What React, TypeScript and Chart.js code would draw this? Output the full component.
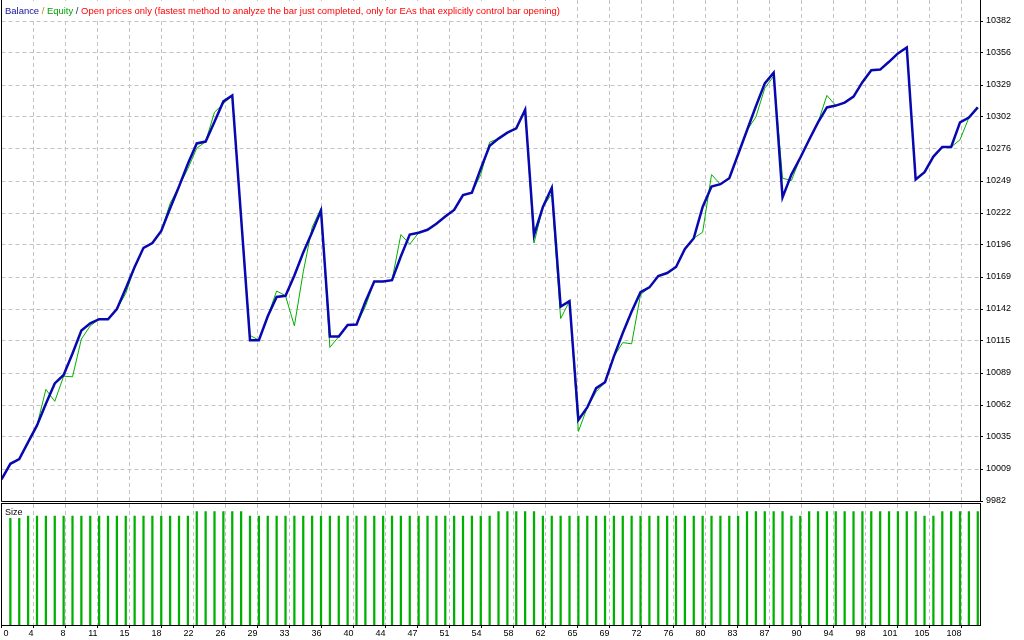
import React, { useEffect, useRef } from 'react';
import { Chart, registerables } from 'chart.js';
Chart.register(...registerables);

// ---- data ----
const balance = [
  10000, 10013, 10017, 10031, 10045, 10063, 10080, 10087, 10105, 10124,
  10130, 10133.5, 10133.5, 10142, 10159, 10177, 10193, 10197, 10207, 10226,
  10244, 10263, 10280, 10281.5, 10298, 10315, 10320, 10218, 10116, 10116,
  10136, 10152, 10153, 10170, 10189, 10206, 10224, 10119, 10119, 10128.7,
  10129, 10148, 10165, 10165, 10166, 10186, 10204, 10205.5, 10208, 10213,
  10219, 10224.5, 10237, 10239, 10259, 10278, 10284, 10289, 10292.5, 10308,
  10203.5, 10227, 10243, 10144, 10148.5, 10049.5, 10060, 10076, 10081, 10102.5,
  10122, 10140, 10156, 10160, 10169.5, 10172, 10177, 10192, 10201, 10227,
  10244, 10246, 10251, 10271, 10291, 10311, 10330, 10339, 10235, 10254,
  10268, 10283, 10297.5, 10310, 10311.5, 10314, 10319, 10331, 10341, 10341.5,
  10348, 10355, 10360, 10250, 10256, 10269, 10277, 10277, 10297.5, 10301.5,
  10310,
];

const equity = [
  10000, 10013, 10017, 10031, 10045, 10075, 10065, 10086, 10085.5, 10117,
  10128, 10133.5, 10133.5, 10142, 10155, 10177, 10193, 10197, 10207, 10230,
  10244, 10259, 10276, 10281.5, 10306, 10313, 10320, 10218, 10120, 10116,
  10136, 10157, 10153, 10128, 10173, 10210, 10226, 10110, 10119, 10128.7,
  10129, 10144, 10165, 10165, 10166, 10204, 10196, 10205.5, 10208, 10213,
  10219, 10224.5, 10237, 10239, 10254, 10281, 10284, 10289, 10292.5, 10308,
  10197, 10227, 10238, 10134, 10148.5, 10040, 10060, 10073, 10081, 10102.5,
  10114, 10113, 10154, 10160, 10169.5, 10172, 10177, 10192, 10201, 10206,
  10254, 10246, 10251, 10271, 10291, 10302, 10326, 10336, 10251, 10249,
  10268, 10283, 10297.5, 10320, 10311.5, 10314, 10319, 10331, 10341, 10341.5,
  10348, 10355, 10360, 10250, 10256, 10269, 10277, 10277, 10283, 10301.5,
  10310,
];

// lot size of trades 1..110
const sizes = [
  0.47, 0.47, 0.48, 0.48, 0.48, 0.48, 0.48, 0.48, 0.48, 0.48,
  0.48, 0.48, 0.48, 0.48, 0.48, 0.48, 0.48, 0.48, 0.48, 0.48,
  0.48, 0.5, 0.5, 0.5, 0.5, 0.5, 0.5, 0.48, 0.48, 0.48,
  0.48, 0.48, 0.48, 0.48, 0.48, 0.48, 0.48, 0.48, 0.48, 0.48,
  0.48, 0.48, 0.48, 0.48, 0.48, 0.48, 0.48, 0.48, 0.48, 0.48,
  0.48, 0.48, 0.48, 0.48, 0.48, 0.5, 0.5, 0.5, 0.5, 0.5,
  0.48, 0.48, 0.48, 0.48, 0.48, 0.48, 0.48, 0.48, 0.48, 0.48,
  0.48, 0.48, 0.48, 0.48, 0.48, 0.48, 0.48, 0.48, 0.48, 0.48,
  0.48, 0.48, 0.48, 0.5, 0.5, 0.5, 0.5, 0.5, 0.48, 0.48,
  0.5, 0.5, 0.5, 0.5, 0.5, 0.5, 0.5, 0.5, 0.5, 0.5,
  0.5, 0.5, 0.5, 0.48, 0.48, 0.5, 0.5, 0.5, 0.5, 0.5,
];

const xTickLabels = [
  '0', '4', '8', '11', '15', '18', '22', '26', '29', '33', '36', '40', '44', '47', '51', '54',
  '58', '62', '65', '69', '72', '76', '80', '83', '87', '90', '94', '98', '101', '105', '108',
];

const yTickLabels = [
  '9982', '10009', '10035', '10062', '10089', '10115', '10142', '10169',
  '10196', '10222', '10249', '10276', '10302', '10329', '10356', '10382',
];

const titleParts = [
  { text: 'Balance', color: '#10109a' },
  { text: ' / ', color: '#b08a10' },
  { text: 'Equity', color: '#00a000' },
  { text: ' / ', color: '#1a1a60' },
  {
    text: 'Open prices only (fastest method to analyze the bar just completed, only for EAs that explicitly control bar opening)',
    color: '#ff0000',
  },
];

// ---- scale settings ----
const X_MAX = 110.25;
const X_GRID_STEP = 3.6055;
const Y_MIN = 9982;
const Y_STEP = 400 / 15;
const Y_MAX = 10399.5;
const SIZE_MAX = 0.5463;

const FONT = '"Liberation Sans", Arial, sans-serif';
const FONT_SIZE = 9;
const TITLE_FONT_SIZE = 9.45;
const GRID_COLOR = '#c4c4c4';
const BLUE = '#0808b0';
const GREEN = '#00b000';

const decorPlugin = {
  id: 'decor',
  afterDraw(chart: any) {
    const { ctx, chartArea, scales } = chart;
    const x = scales.x;
    const y = scales.y;
    const yS = scales.ySize;
    ctx.save();
    const L = Math.floor(chartArea.left) + 0.5;
    const R = Math.round(chartArea.right) + 0.5;
    const mainBottom = Math.round(y.bottom) + 0.5;
    const sizeTop = mainBottom + 2;
    const sizeBottom = Math.round(yS.bottom) + 0.5;

    // gap between panels
    ctx.fillStyle = '#ffffff';
    ctx.fillRect(L, mainBottom, R - L, 2);

    // title
    ctx.font = `${TITLE_FONT_SIZE}px ${FONT}`;
    let total = 0;
    for (const p of titleParts) total += ctx.measureText(p.text).width;
    ctx.fillStyle = '#ffffff';
    ctx.fillRect(L + 1, 1, total + 6, 18);
    let tx = 5;
    ctx.textBaseline = 'alphabetic';
    ctx.textAlign = 'left';
    for (const p of titleParts) {
      ctx.fillStyle = p.color;
      ctx.fillText(p.text, tx, 14);
      tx += ctx.measureText(p.text).width;
    }

    // Size label
    ctx.font = `${FONT_SIZE}px ${FONT}`;
    ctx.fillStyle = '#000000';
    ctx.fillText('Size', 5, 515);

    // frames
    ctx.strokeStyle = '#000000';
    ctx.lineWidth = 1;
    ctx.setLineDash([]);
    ctx.beginPath();
    ctx.moveTo(L, 0);
    ctx.lineTo(L, mainBottom);
    ctx.lineTo(R, mainBottom);
    ctx.lineTo(R, 0);
    ctx.stroke();
    ctx.strokeRect(L, sizeTop, R - L, sizeBottom - sizeTop);

    // x labels
    ctx.fillStyle = '#000000';
    x.ticks.forEach((t: any, k: number) => {
      const px = x.getPixelForValue(t.value);
      if (k === 0) {
        ctx.textAlign = 'left';
        ctx.fillText(xTickLabels[k], px + 2, 636);
      } else {
        ctx.textAlign = 'right';
        ctx.fillText(xTickLabels[k], px, 636);
      }
    });
    ctx.restore();
  },
};

export default function App() {
  const ref = useRef<HTMLCanvasElement>(null);
  useEffect(() => {
    if (!ref.current) return;
    const chart = new Chart(ref.current, {
      type: 'line',
      data: {
        datasets: [
          {
            type: 'line',
            label: 'Balance',
            data: balance.map((v, i) => ({ x: i, y: v })),
            yAxisID: 'y',
            xAxisID: 'x',
            borderColor: BLUE,
            borderWidth: 2.5,
            pointRadius: 0,
            tension: 0,
            order: 0,
          },
          {
            type: 'line',
            label: 'Equity',
            data: equity.map((v, i) => ({ x: i, y: v })),
            yAxisID: 'y',
            xAxisID: 'x',
            borderColor: GREEN,
            borderWidth: 1,
            pointRadius: 0,
            tension: 0,
            order: 1,
          },
          {
            type: 'bar',
            label: 'Size',
            data: sizes.map((v, i) => ({ x: i + 1, y: v })),
            yAxisID: 'ySize',
            xAxisID: 'x',
            backgroundColor: GREEN,
            borderWidth: 0,
            barThickness: 1.6,
            order: 2,
          } as any,
        ],
      },
      options: {
        animation: false,
        responsive: false,
        devicePixelRatio: 1,
        layout: { padding: { left: 1.5, right: 0, top: 0, bottom: 0 } },
        plugins: {
          legend: { display: false },
          tooltip: { enabled: false },
          title: { display: false },
        },
        scales: {
          x: {
            type: 'linear',
            position: 'bottom',
            min: 0,
            max: X_MAX,
            offset: false,
            afterBuildTicks: (scale: any) => {
              scale.ticks = xTickLabels.map((_, k) => ({ value: k * X_GRID_STEP }));
            },
            afterFit: (scale: any) => {
              scale.height = 15;
              scale.paddingLeft = 0;
              scale.paddingRight = 0;
            },
            ticks: { display: false },
            grid: {
              offset: false,
              color: GRID_COLOR,
              lineWidth: 1,
              drawTicks: true,
              tickLength: 3,
              tickColor: '#000000',
              tickBorderDash: [],
            },
            border: { display: false, dash: [4, 3] },
          },
          y: {
            type: 'linear',
            position: 'right',
            stack: 'panels',
            stackWeight: 501,
            min: Y_MIN,
            max: Y_MAX,
            afterBuildTicks: (scale: any) => {
              scale.ticks = yTickLabels.map((_, k) => ({ value: Y_MIN + k * Y_STEP }));
            },
            afterFit: (scale: any) => {
              scale.width = 44;
              scale.paddingTop = 0;
              scale.paddingBottom = 0;
            },
            ticks: {
              callback: (_v: any, i: number) => yTickLabels[i],
              color: '#000000',
              font: { family: FONT, size: FONT_SIZE },
              padding: 3,
            },
            grid: {
              color: GRID_COLOR,
              lineWidth: 1,
              drawTicks: true,
              tickLength: 3,
              tickColor: '#000000',
              tickBorderDash: [],
            },
            border: { display: false, dash: [4, 3] },
          },
          ySize: {
            type: 'linear',
            position: 'right',
            stack: 'panels',
            stackWeight: 124,
            min: 0,
            max: SIZE_MAX,
            afterFit: (scale: any) => {
              scale.width = 44;
              scale.paddingTop = 0;
              scale.paddingBottom = 0;
            },
            ticks: { display: false },
            grid: { display: false },
            border: { display: false },
          },
        },
      } as any,
      plugins: [decorPlugin],
    });
    return () => chart.destroy();
  }, []);
  return (
    <div style={{ position: 'fixed', left: 0, top: 0, width: 1024, height: 640, background: '#ffffff' }}>
      <canvas ref={ref} width={1024} height={640} style={{ display: 'block', width: 1024, height: 640 }} />
    </div>
  );
}
